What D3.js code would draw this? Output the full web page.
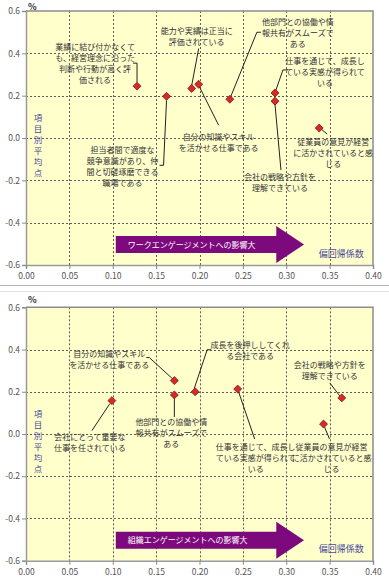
<!DOCTYPE html>
<html><head><meta charset="utf-8">
<script src="https://cdn.jsdelivr.net/npm/d3@7"></script>
<style>
html,body{margin:0;padding:0;background:#fff;}
svg{display:block;}
text{font-family:"Noto Sans CJK JP","Noto Sans",sans-serif;}
</style></head>
<body>
<svg id="c" width="389" height="578"></svg>
<script>
// ---------- data ----------
const xTicks = [0.00,0.05,0.10,0.15,0.20,0.25,0.30,0.35,0.40];
const yTicks = [-0.6,-0.4,-0.2,0.0,0.2,0.4,0.6];

const topX = [0.128,0.162,0.191,0.199,0.235,0.287,0.287,0.338];
const topY = [0.245,0.197,0.234,0.254,0.183,0.213,0.174,0.047];
const topLabels = [
  ["業績に結び付かなくて","も、経営理念に沿った","判断や行動が高く評","価される"],
  ["担当者間で適度な","競争意識があり、仲","間と切磋琢磨できる","職場である"],
  ["能力や実績は正当に","評価されている"],
  ["自分の知識やスキル","を活かせる仕事である"],
  ["他部門との協働や情","報共有がスムーズで","ある"],
  ["仕事を通じて、成長し","ている実感が得られて","いる"],
  ["会社の戦略や方針を","理解できている"],
  ["従業員の意見が経営","に活かされていると感","じる"]
];
const topArrowText = "ワークエンゲージメントへの影響大";

const botX = [0.099,0.171,0.171,0.195,0.244,0.364,0.343];
const botY = [0.158,0.253,0.185,0.200,0.213,0.171,0.047];
const botLabels = [
  ["会社にとって重要な","仕事を任されている"],
  ["自分の知識やスキル","を活かせる仕事である"],
  ["他部門との協働や情","報共有がスムーズで","ある"],
  ["成長を後押ししてくれ","る会社である"],
  ["仕事を通じて、成長し","ている実感が得られて","いる"],
  ["会社の戦略や方針を","理解できている"],
  ["従業員の意見が経営","に活かされていると感","じる"]
];
const botArrowText = "組織エンゲージメントへの影響大";

const yAxisTitle = "項目別平均点";
const xAxisTitle = "偏回帰係数";
const unitLabel = "%";

// ---------- layout (pixel offsets of labels relative to their points) ----------
const topLayout = [
  {dx:-42, dy:-39, lead:[[0,-4],[0,-23],[-4,-23]]},
  {dx:-44, dy:54,  lead:[[0,4],[-3,69],[-7,69]]},
  {dx:5,   dy:-57, lead:[[0,-3],[7,-40]]},
  {dx:20,  dy:53,  lead:[[1,3],[20,41]]},
  {dx:68,  dy:-77, lead:[[1,-3],[27,-67],[31,-67]]},
  {dx:50,  dy:-32, lead:[[1,-3],[8,-23],[13,-23]]},
  {dx:5,   dy:76,  lead:[[0,3],[6,69]]},
  {dx:14,  dy:14,  lead:[[2,1],[8,6]]}
];
const botLayout = [
  {dx:-22, dy:36,  lead:[[-2,3],[-20,30]]},
  {dx:-65, dy:-27, lead:[[-2,-2],[-25,-23],[-28,-23]]},
  {dx:-3,  dy:27,  lead:[[0,3],[0,22]]},
  {dx:55,  dy:-47, lead:[[-1,-3],[12,-42],[16,-42]]},
  {dx:18,  dy:58,  lead:[[1,3],[17,50]]},
  {dx:-12, dy:-33, lead:[[-2,-2],[-12,-15]]},
  {dx:8,   dy:23,  lead:[[1,3],[6,15]]}
];

const svg = d3.select("#c");
const fmtX = d3.format(".2f");
const fmtY = v => d3.format(".1f")(v).replace("\u2212","-");

// separators between the two chart images
svg.append("line").attr("x1",0).attr("x2",389).attr("y1",285.5).attr("y2",285.5).attr("stroke","#b5b5b5");
svg.append("line").attr("x1",0).attr("x2",389).attr("y1",291.5).attr("y2",291.5).attr("stroke","#e2e2e2");

function drawChart(yTop, yBot, xs, ys, labels, layout, arrowText){
  const x = d3.scaleLinear().domain([0,0.4]).range([26,373]);
  const y = d3.scaleLinear().domain([-0.6,0.6]).range([yBot,yTop]);
  const g = svg.append("g");

  g.append("rect").attr("x",x(0)).attr("y",y(0.6)).attr("width",x(0.4)-x(0)).attr("height",y(-0.6)-y(0.6))
    .attr("fill","#ffffcc");

  // grid
  g.append("g").selectAll("line").data(xTicks.slice(1,-1)).join("line")
    .attr("x1",d=>Math.round(x(d))+0.5).attr("x2",d=>Math.round(x(d))+0.5)
    .attr("y1",y(0.6)).attr("y2",y(-0.6))
    .attr("stroke","#5e5e5e").attr("stroke-dasharray","2,2");
  g.append("g").selectAll("line").data(yTicks.slice(1,-1)).join("line")
    .attr("y1",d=>Math.round(y(d))+0.5).attr("y2",d=>Math.round(y(d))+0.5)
    .attr("x1",x(0)).attr("x2",x(0.4))
    .attr("stroke","#5e5e5e").attr("stroke-dasharray","2,2");

  // axes
  const ax = g.append("g").attr("transform",`translate(0,${y(-0.6)})`)
    .call(d3.axisBottom(x).tickValues(xTicks).tickFormat(fmtX).tickSize(4).tickPadding(4));
  const ay = g.append("g").attr("transform",`translate(${x(0)},0)`)
    .call(d3.axisLeft(y).tickValues(yTicks).tickFormat(fmtY).tickSize(4).tickPadding(2));
  [ax,ay].forEach(a=>{
    a.select(".domain").attr("stroke","#9a9a9a").attr("stroke-width",1.5);
    a.selectAll(".tick line").attr("stroke","#8a8a8a");
    a.selectAll(".tick text").attr("fill","#555").attr("font-size","8.5px")
      .attr("font-family","'Liberation Sans',Arial,sans-serif");
  });
  // top & right border
  g.append("path").attr("d",`M${x(0)},${y(0.6)}H${x(0.4)}V${y(-0.6)}`)
    .attr("fill","none").attr("stroke","#8c8c8c").attr("stroke-width",1.5);

  // unit
  g.append("text").attr("x",28).attr("y",Math.max(9.5,yTop-4)).attr("font-size","9px").attr("font-weight","bold")
    .attr("fill","#333").attr("font-family","'Liberation Sans',Arial,sans-serif").text(unitLabel);

  // y axis title (vertical stacked)
  const yt = g.append("text").attr("fill","#4a4a9c").attr("font-size","8.5px").attr("text-anchor","middle");
  Array.from(yAxisTitle).forEach((ch,i)=>{
    yt.append("tspan").attr("x",38).attr("y",y(0.6)+110+i*11).text(ch);
  });

  // arrow
  const ax0 = x(0.1035), axEnd = x(0.2885), axTip = x(0.3205);
  const ac = y(-0.6)-20.5;
  g.append("path")
    .attr("d",`M${ax0},${ac-8.5}H${axEnd}V${ac-18.5}L${axTip},${ac}L${axEnd},${ac+18.5}V${ac+8.5}H${ax0}Z`)
    .attr("fill","#7d0a7d");
  g.append("text").attr("x",ax0+12).attr("y",ac+3).attr("fill","#fff").attr("font-size","8px").text(arrowText);

  // x axis title
  g.append("text").attr("x",x(0.3375)).attr("y",y(-0.6)-8.5).attr("fill","#4a4a9c").attr("font-size","9px").text(xAxisTitle);

  // leaders
  xs.forEach((v,i)=>{
    const px = x(v), py = y(ys[i]);
    const pts = layout[i].lead.map(p=>[px+p[0],py+p[1]]);
    g.append("path").attr("d",d3.line()(pts)).attr("fill","none").attr("stroke","#222").attr("stroke-width",1);
  });
  // labels
  xs.forEach((v,i)=>{
    const px = x(v), py = y(ys[i]);
    const L = layout[i];
    const t = g.append("text").attr("text-anchor","middle").attr("font-size","8px").attr("fill","#333");
    labels[i].forEach((ln,j)=>{
      t.append("tspan").attr("x",px+L.dx).attr("y",py+L.dy+3+j*11).text(ln);
    });
  });
  // markers
  g.append("g").selectAll("path").data(xs).join("path")
    .attr("transform",(d,i)=>`translate(${x(d)},${y(ys[i])})`)
    .attr("d",d3.symbol(d3.symbolDiamond2,40))
    .attr("fill","#d42a2a").attr("stroke","#8a0d0d").attr("stroke-width",0.8);
}

drawChart(11, 265, topX, topY, topLabels, topLayout, topArrowText);
drawChart(307.3, 560.7, botX, botY, botLabels, botLayout, botArrowText);
</script>
</body></html>
